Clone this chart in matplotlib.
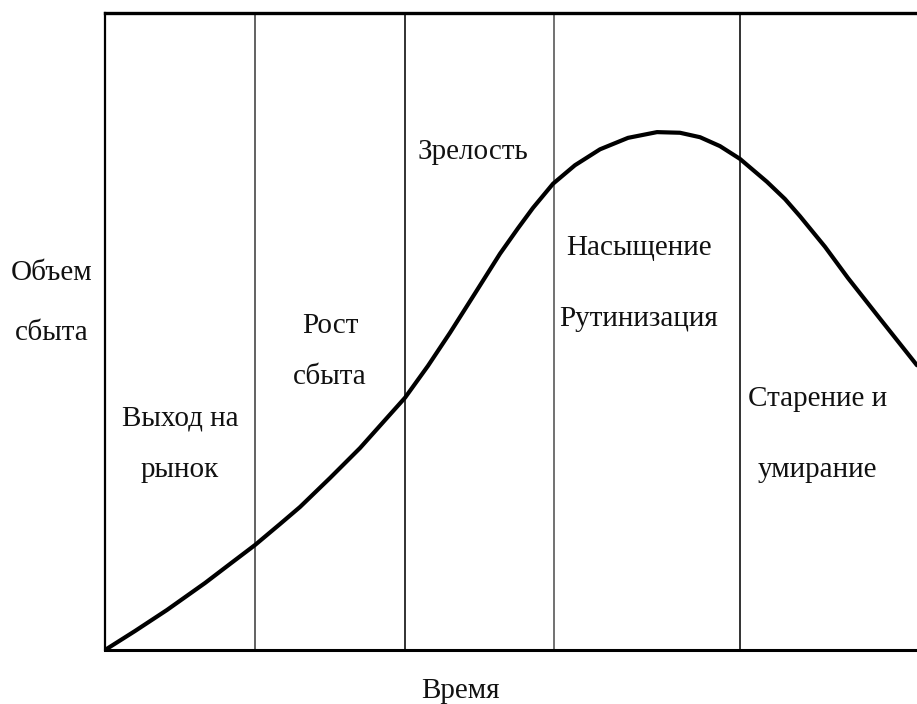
import matplotlib
matplotlib.use("Agg")
import matplotlib.pyplot as plt

# Data
time = [0, 2, 4.13, 6.67, 8.33, 10, 11.67, 13, 15, 17, 18.67, 20, 21.53, 23,
        24.67, 26.33, 27.53, 28.53, 29.87, 31.33, 33, 34.87, 36.8, 38.33,
        39.67, 41, 42.33, 44.13, 45.33, 46.33, 48, 49.53, 51.67, 54.13]
sales = [0, 2.98, 6.28, 10.52, 13.5, 16.48, 19.78, 22.45, 27.0, 31.7, 36.1,
         39.6, 44.6, 49.8, 56.0, 62.2, 66.2, 69.4, 73.2, 76.1, 78.6, 80.4,
         81.3, 81.2, 80.5, 79.1, 77.1, 73.5, 70.8, 68.1, 63.3, 58.4, 52.0,
         44.7]
stage_bounds = [10, 20, 29.9, 42.3]
stage_colors = ["#555555", "#222222", "#666666", "#222222"]

stage_labels = ["Выход на\nрынок", "Рост\nсбыта", "Зрелость",
                "Насыщение\nРутинизация", "Старение и\nумирание"]
ylabel = "Объем\nсбыта"
xlabel = "Время"

plt.rcParams['font.family'] = ['Liberation Serif', 'DejaVu Serif']

fig = plt.figure(figsize=(9.17, 7.04), dpi=100)
ax = fig.add_axes([105/917, 54/704, 812/917, 637/704])
ax.set_xlim(0, 812/15)
ax.set_ylim(0, 100)

for xb, c in zip(stage_bounds, stage_colors):
    ax.axvline(xb, color=c, lw=1.3, zorder=1)

ax.plot(time, sales, color="black", lw=3.0, solid_capstyle="round",
        solid_joinstyle="round", zorder=3)

ax.set_xticks([])
ax.set_yticks([])
ax.spines['right'].set_visible(False)
ax.spines['left'].set_linewidth(1.6)
ax.spines['bottom'].set_linewidth(2.2)
ax.spines['top'].set_linewidth(2.4)

fs = 21
# label placement (x, y centre in data units, line spacing)
pos = [(5.0, 32.3, 2.25), (15.0, 46.9, 2.25), (24.5, 78.2, 1.0),
       (35.6, 57.5, 3.25), (47.5, 33.9, 3.25)]
for lab, (x, y, ls) in zip(stage_labels, pos):
    ax.text(x, y, lab, ha="center", va="center", fontsize=fs,
            linespacing=ls, color="#111111")

fig.text(52/917, 1 - 303/704, ylabel, ha="center", va="center",
         fontsize=fs, linespacing=2.75, color="#111111")
fig.text(460/917, 1 - 691/704, xlabel, ha="center", va="center",
         fontsize=fs, color="#111111")

fig.savefig("out.png", dpi=100, facecolor="white")
